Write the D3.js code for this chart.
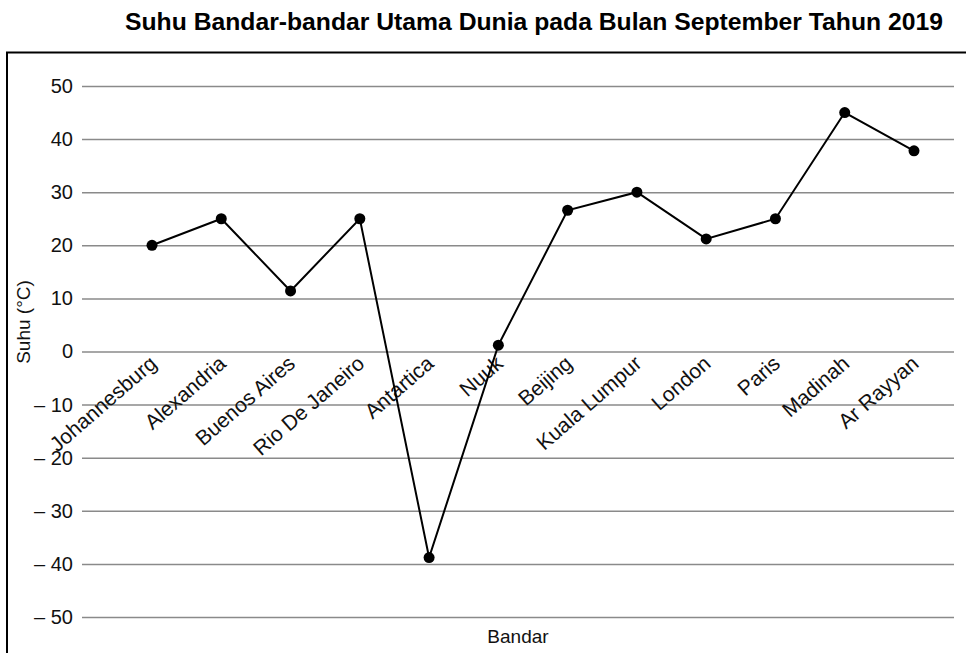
<!DOCTYPE html>
<html><head><meta charset="utf-8">
<script src="https://cdn.jsdelivr.net/npm/d3@7"></script>
<style>body{margin:0;background:#fff}svg{display:block}text{font-family:"Liberation Sans",Arial,sans-serif}</style>
</head><body><svg id="c" width="966" height="653"></svg>
<script>
const cities = ["Johannesburg","Alexandria","Buenos Aires","Rio De Janeiro","Antartica","Nuuk","Beijing","Kuala Lumpur","London","Paris","Madinah","Ar Rayyan"];
const temps = [20,25,11.4,25,-38.8,1.2,26.6,30,21.2,25,45,37.8];
const yTicks = [50,40,30,20,10,0,-10,-20,-30,-40,-50];
const title = "Suhu Bandar-bandar Utama Dunia pada Bulan September Tahun 2019";
const xTitle = "Bandar", yTitle = "Suhu (°C)";

const svg = d3.select("#c");
const x = d3.scalePoint().domain(cities).range([152, 914]);
const y = d3.scaleLinear().domain([-50, 50]).range([617, 86]);
const gridX0 = 82, gridX1 = 954;

svg.append("rect").attr("x",7).attr("y",52.5).attr("width",980).attr("height",640)
  .attr("fill","none").attr("stroke","#000").attr("stroke-width",2);

svg.append("text").attr("x",534).attr("y",30).attr("text-anchor","middle")
  .attr("font-weight","bold").attr("font-size",24).attr("textLength",818).attr("lengthAdjust","spacingAndGlyphs").text(title);

const ya = svg.append("g").attr("transform",`translate(${gridX0},0)`)
  .call(d3.axisLeft(y).tickValues(yTicks).tickSize(-(gridX1-gridX0)).tickPadding(9)
    .tickFormat(d => d < 0 ? "\u2013 " + Math.abs(d) : String(d)));
ya.select(".domain").remove();
ya.selectAll(".tick line").attr("stroke","#8a8a8a").attr("stroke-width",1.5);
ya.selectAll(".tick text").attr("font-size",20).attr("fill","#111").attr("font-family","Liberation Sans, Arial, sans-serif");

svg.append("g").selectAll("text").data(cities).join("text")
  .attr("transform", d => `translate(${x(d)+6},${y(0)+14}) rotate(-41)`)
  .attr("text-anchor","end").attr("font-size",21).attr("fill","#111").text(d => d);

const line = d3.line().x((d,i)=>x(cities[i])).y(d=>y(d));
svg.append("path").datum(temps).attr("d",line).attr("fill","none").attr("stroke","#000").attr("stroke-width",2);
svg.append("g").selectAll("circle").data(temps).join("circle")
  .attr("cx",(d,i)=>x(cities[i])).attr("cy",d=>y(d)).attr("r",5.5).attr("fill","#000");

svg.append("text").attr("x",518).attr("y",643).attr("text-anchor","middle").attr("font-size",19).attr("fill","#111").text(xTitle);
svg.append("text").attr("transform","translate(30,322) rotate(-90)").attr("text-anchor","middle")
  .attr("font-size",19).attr("fill","#111").text(yTitle);
</script></body></html>
